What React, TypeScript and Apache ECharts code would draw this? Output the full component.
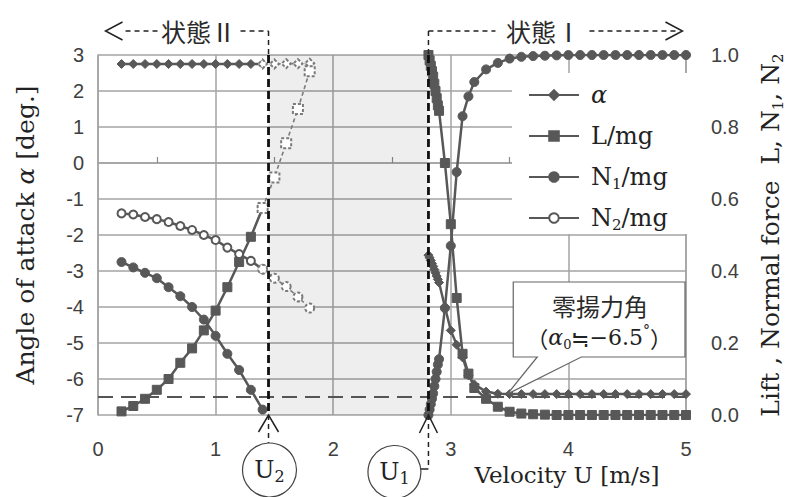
import { useEffect, useRef } from 'react';
import * as echarts from 'echarts';

// ---------------- data ----------------
// State II (stable, plate resting): U = 0.2 … 1.4 m/s
const velocityStateII = [0.2, 0.3, 0.4, 0.5, 0.6, 0.7, 0.8, 0.9, 1.0, 1.1, 1.2, 1.3, 1.4];
const alphaStateII = [2.75, 2.75, 2.75, 2.75, 2.75, 2.75, 2.75, 2.75, 2.75, 2.75, 2.75, 2.75, 2.75];
const liftStateII = [0.01, 0.025, 0.045, 0.07, 0.1, 0.145, 0.185, 0.235, 0.29, 0.355, 0.425, 0.495, 0.575];
const n1StateII = [0.425, 0.41, 0.395, 0.38, 0.355, 0.33, 0.3, 0.265, 0.22, 0.17, 0.125, 0.07, 0.015];
const n2StateII = [0.56, 0.557, 0.55, 0.544, 0.536, 0.525, 0.514, 0.5, 0.486, 0.465, 0.447, 0.428, 0.405];

// Unstable continuation of state II (dashed)
const velocityUnstable = [1.4, 1.5, 1.6, 1.7, 1.8];
const alphaUnstable = [2.75, 2.75, 2.76, 2.76, 2.77];
const liftUnstable = [0.575, 0.66, 0.755, 0.85, 0.955];
const n2Unstable = [0.405, 0.38, 0.357, 0.328, 0.297];

// State I (plate lifted): U = 2.81 … 5.0 m/s
const velocityStateI = [
  2.81, 2.82, 2.83, 2.84, 2.85, 2.86, 2.87, 2.88, 2.89, 2.9,
  2.95, 3.0, 3.05, 3.1, 3.15, 3.2, 3.3, 3.4, 3.5,
  3.6, 3.7, 3.8, 3.9, 4.0, 4.1, 4.2, 4.3, 4.4, 4.5, 4.6, 4.7, 4.8, 4.9, 5.0,
];
const alphaStateI = [
  -2.56, -2.63, -2.71, -2.79, -2.87, -2.96, -3.05, -3.14, -3.23, -3.32,
  -4.0, -4.65, -5.05, -5.4, -5.9, -6.15, -6.35, -6.41, -6.42,
  -6.42, -6.42, -6.42, -6.42, -6.42, -6.42, -6.42, -6.42, -6.42, -6.42, -6.42, -6.42, -6.42, -6.42, -6.42,
];
const liftStateI = [
  1.0, 0.985, 0.97, 0.955, 0.94, 0.92, 0.9, 0.88, 0.86, 0.845,
  0.7, 0.53, 0.325, 0.17, 0.115, 0.075, 0.045, 0.023, 0.009,
  0.004, 0.002, 0.001, 0, 0, 0, 0, 0, 0, 0, 0, 0, 0, 0, 0,
];
const n1StateI = [
  0, 0.015, 0.03, 0.045, 0.06, 0.08, 0.1, 0.12, 0.14, 0.155,
  0.297, 0.47, 0.675, 0.83, 0.885, 0.925, 0.96, 0.978, 0.99,
  0.995, 0.997, 0.998, 0.999, 1, 1, 1, 1, 1, 1, 1, 1, 1, 1, 1,
];

const U2 = 1.45; // lower critical velocity
const U1 = 2.81; // upper critical velocity
const zeroLiftAlpha = -6.5;
const annotationAnchor = [3.48, -6.42];

const velocityRange = [0, 5];
const alphaRange = [-7, 3];
const forceRange = [0, 1];

const legendNames = ['α', 'L/mg', 'N1/mg', 'N2/mg'];
const legendLabels: Record<string, string> = {
  'α': '{i|α}',
  'L/mg': 'L/mg',
  'N1/mg': 'N{s|1}/mg',
  'N2/mg': 'N{s|2}/mg',
};

// ---------------- styling ----------------
const DARK = '#585858';
const DASHED = '#7a7a7a';
const GRID = '#a3a3a3';
const SERIF = 'DejaVu Serif';
const SANS = 'Liberation Sans';
const CJK = 'Noto Sans CJK JP';

const pair = (xs: number[], ys: number[]) => xs.map((x, i) => [x, ys[i]]);

function solidSeries(name: string, yAxisIndex: number, xs: number[], ys: number[], symbol: string, size: number): any {
  const empty = symbol.startsWith('empty');
  return {
    type: 'line',
    name,
    yAxisIndex,
    data: pair(xs, ys),
    symbol,
    symbolSize: size,
    showSymbol: true,
    lineStyle: { color: DARK, width: 2.5 },
    itemStyle: empty
      ? { color: DARK, borderColor: DARK, borderWidth: 2 }
      : { color: DARK, borderColor: DARK, borderWidth: 1 },
    emphasis: { disabled: true },
    z: 3,
  };
}

function dashedSeries(name: string, yAxisIndex: number, xs: number[], ys: number[], symbol: string, size: number): any {
  return {
    type: 'line',
    name,
    yAxisIndex,
    data: pair(xs, ys),
    symbol,
    symbolSize: size,
    showSymbol: true,
    lineStyle: { color: DASHED, width: 1.6, type: [4, 3] },
    itemStyle: { color: DASHED, borderColor: DASHED, borderWidth: 1.6, borderType: [3, 2] },
    emphasis: { disabled: true },
    z: 3,
  };
}

export default function App() {
  const ref = useRef<HTMLDivElement>(null);

  useEffect(() => {
    document.body.style.margin = '0';
    const el = ref.current;
    if (!el) return;
    const chart = echarts.init(el, null, { renderer: 'svg' });

    const alphaII = solidSeries('α', 0, velocityStateII, alphaStateII, 'diamond', 9);
    alphaII.markArea = {
      silent: true,
      itemStyle: { color: 'rgba(0,0,0,0.065)' },
      data: [[{ xAxis: U2 }, { xAxis: U1 }]],
    };
    alphaII.markLine = {
      silent: true,
      symbol: ['none', 'none'],
      label: { show: false },
      lineStyle: { color: '#555', width: 2, type: [15, 8] },
      data: [{ yAxis: zeroLiftAlpha }],
    };

    const option: any = {
      animation: false,
      backgroundColor: '#ffffff',
      textStyle: { fontFamily: SERIF },
      grid: { left: 98, right: 105, top: 55, bottom: 82, containLabel: false },
      xAxis: {
        type: 'value',
        min: velocityRange[0],
        max: velocityRange[1],
        interval: 1,
        name: 'Velocity U [m/s]',
        nameLocation: 'middle',
        nameGap: 46,
        nameTextStyle: {
          fontFamily: SERIF, fontSize: 23, color: '#222', padding: [0, 0, 0, 350],
        },
        axisLine: { show: true, lineStyle: { color: GRID, width: 1.5 } },
        axisTick: { show: false, inside: true },
        minorTick: { show: true, splitNumber: 2, length: 6, lineStyle: { color: '#8a8a8a', width: 1.2 } },
        splitLine: { show: true, lineStyle: { color: GRID, width: 1.5 } },
        axisLabel: { fontFamily: SANS, fontSize: 20, color: '#404040', margin: 24 },
      },
      yAxis: [
        {
          type: 'value',
          position: 'left',
          min: alphaRange[0],
          max: alphaRange[1],
          interval: 1,
          name: 'Angle of attack {i|α} [deg.]',
          nameLocation: 'middle',
          nameRotate: 90,
          nameGap: 58,
          nameTextStyle: {
            fontFamily: SERIF, fontSize: 25, color: '#222', lineHeight: 30,
            rich: { i: { fontFamily: SERIF, fontSize: 25, fontStyle: 'italic', color: '#222', lineHeight: 30 } },
          },
          axisLine: { show: true, lineStyle: { color: GRID, width: 1.5 } },
          axisTick: { show: false },
          splitLine: { show: true, lineStyle: { color: GRID, width: 1.5 } },
          axisLabel: { fontFamily: SANS, fontSize: 20, color: '#404040', margin: 14 },
        },
        {
          type: 'value',
          position: 'right',
          min: forceRange[0],
          max: forceRange[1],
          interval: 0.1,
          name: 'Lift , Normal force  L, N{s|1}, N{s|2}',
          nameLocation: 'middle',
          nameRotate: 90,
          nameGap: 69,
          nameTextStyle: {
            fontFamily: SERIF, fontSize: 25, color: '#222', lineHeight: 30,
            rich: { s: { fontFamily: SERIF, fontSize: 15, color: '#222', lineHeight: 14, verticalAlign: 'bottom' } },
          },
          axisLine: { show: true, lineStyle: { color: GRID, width: 1.5 } },
          axisTick: { show: false },
          splitLine: { show: false },
          axisLabel: {
            fontFamily: SANS, fontSize: 20, color: '#404040', margin: 25,
            formatter: (v: number) => (Math.round(v * 10) % 2 === 0 ? v.toFixed(1) : ''),
          },
        },
      ],
      legend: {
        data: legendNames,
        orient: 'vertical',
        left: 512,
        top: 73,
        itemWidth: 50,
        itemHeight: 12,
        itemGap: 13,
        padding: [8, 21, 2, 16],
        backgroundColor: '#ffffff',
        selectedMode: false,
        formatter: (n: string) => legendLabels[n] ?? n,
        textStyle: {
          fontFamily: SERIF, fontSize: 24, color: '#222', lineHeight: 28, padding: [0, 0, 0, 7],
          rich: {
            i: { fontFamily: SERIF, fontSize: 24, fontStyle: 'italic', color: '#222', lineHeight: 28 },
            s: { fontFamily: SERIF, fontSize: 15, color: '#222', lineHeight: 18, verticalAlign: 'bottom' },
          },
        },
      },
      series: [
        alphaII,
        solidSeries('L/mg', 1, velocityStateII, liftStateII, 'rect', 9),
        solidSeries('N1/mg', 1, velocityStateII, n1StateII, 'circle', 9),
        solidSeries('N2/mg', 1, velocityStateII, n2StateII, 'emptyCircle', 8),
        dashedSeries('α', 0, velocityUnstable, alphaUnstable, 'emptyDiamond', 9),
        dashedSeries('L/mg', 1, velocityUnstable, liftUnstable, 'emptyRect', 10),
        dashedSeries('N2/mg', 1, velocityUnstable, n2Unstable, 'emptyCircle', 9),
        solidSeries('α', 0, velocityStateI, alphaStateI, 'diamond', 9),
        solidSeries('L/mg', 1, velocityStateI, liftStateI, 'rect', 9),
        solidSeries('N1/mg', 1, velocityStateI, n1StateI, 'circle', 9),
      ],
    };

    chart.setOption(option);

    // ---- annotations positioned through the axes' own scales ----
    const toX = (v: number) => chart.convertToPixel({ xAxisIndex: 0 }, v) as number;
    const toY = (v: number) => chart.convertToPixel({ yAxisIndex: 0 }, v) as number;
    const xU2 = toX(U2);
    const xU1 = toX(U1);
    const yTop = toY(alphaRange[1]);
    const yBot = toY(alphaRange[0]);
    const xRight = toX(velocityRange[1]);
    const bracketY = yTop - 24;

    const thin = { stroke: '#222', lineWidth: 1.5, lineDash: [5, 4], fill: null };
    const thick = { stroke: '#111', lineWidth: 2.8, lineDash: [8, 4], fill: null };
    const solidThin = { stroke: '#222', lineWidth: 1.5, fill: null };
    const line = (x1: number, y1: number, x2: number, y2: number, style: any) => ({
      type: 'line', z: 100, silent: true, shape: { x1, y1, x2, y2 }, style,
    });
    const poly = (pts: number[][], style: any) => ({
      type: 'polyline', z: 100, silent: true, shape: { points: pts }, style,
    });
    const cjkText = (text: string, x: number, y: number, size: number) => ({
      type: 'text', z: 101, silent: true,
      style: { text, x, y, align: 'center', verticalAlign: 'middle', fontFamily: CJK, fontSize: size, fill: '#2a2a2a' },
    });
    const uLabel = (sub: string, x: number, y: number) => ({
      type: 'text', z: 102, silent: true,
      style: {
        text: `{u|U}{s|${sub}}`, x, y, align: 'center', verticalAlign: 'middle',
        rich: {
          u: { fontFamily: SERIF, fontSize: 24, lineHeight: 28, fill: '#222' },
          s: { fontFamily: SERIF, fontSize: 16, lineHeight: 22, verticalAlign: 'bottom', fill: '#222' },
        },
      },
    });

    const circleU2 = { cx: xU2 + 1, cy: yBot + 55, r: 27 };
    const circleU1 = { cx: xU1 - 34, cy: yBot + 57, r: 26.5 };

    const [tipX, tipY] = chart.convertToPixel({ xAxisIndex: 0, yAxisIndex: 0 }, annotationAnchor) as number[];
    const boxL = tipX + 6;
    const boxR = xRight - 1;
    const boxT = yTop + 227;
    const boxB = yTop + 302;

    const graphic: any[] = [
      // U2 marker line and "state II" bracket
      line(xU2, yTop, xU2, yBot, thick),
      line(xU2, bracketY, xU2, yTop, thin),
      line(xU2 - 28, bracketY, xU2, bracketY, thin),
      line(xU2 - 143, bracketY, xU2 - 110, bracketY, thin),
      poly([[xU2 - 146, bracketY - 9], [xU2 - 163, bracketY], [xU2 - 146, bracketY + 9]], solidThin),
      cjkText('状態Ⅱ', xU2 - 70, bracketY, 25),
      line(xU2, yBot, xU2, circleU2.cy - circleU2.r, thin),
      poly([[xU2 - 10, yBot + 17], [xU2, yBot], [xU2 + 10, yBot + 17]], solidThin),
      { type: 'circle', z: 101, silent: true, shape: circleU2, style: { fill: '#fff', stroke: '#444', lineWidth: 1.2 } },
      uLabel('2', circleU2.cx, circleU2.cy),

      // U1 marker line and "state I" bracket
      line(xU1, yTop, xU1, yBot, thick),
      line(xU1, bracketY, xU1, yTop, thin),
      line(xU1, bracketY, xU1 + 67, bracketY, thin),
      line(xU1 + 161, bracketY, xU1 + 250, bracketY, thin),
      poly([[xU1 + 237, bracketY - 9], [xU1 + 254, bracketY], [xU1 + 237, bracketY + 9]], solidThin),
      cjkText('状態Ⅰ', xU1 + 115, bracketY, 25),
      line(xU1, yBot, xU1, circleU1.cy - 3, thin),
      line(xU1, circleU1.cy - 3, circleU1.cx + circleU1.r, circleU1.cy - 3, solidThin),
      poly([[xU1 - 9, yBot + 18], [xU1, yBot], [xU1 + 9, yBot + 18]], solidThin),
      { type: 'circle', z: 101, silent: true, shape: circleU1, style: { fill: '#fff', stroke: '#444', lineWidth: 1.2 } },
      uLabel('1', circleU1.cx, circleU1.cy),

      // zero-lift angle callout
      {
        type: 'polygon', z: 100, silent: true,
        shape: {
          points: [
            [boxL, boxT], [boxR, boxT], [boxR, boxB], [boxL + 68, boxB],
            [tipX, tipY], [boxL + 24, boxB], [boxL, boxB],
          ],
        },
        style: { fill: '#fff', stroke: '#666', lineWidth: 1.2 },
      },
      cjkText('零揚力角', (boxL + boxR) / 2 + 1, boxT + 23, 24),
      {
        type: 'text', z: 101, silent: true,
        style: {
          text: '{p|（}{a|α}{s|0}{c|≒}{b|−6.5}{d|°}{p|）}',
          x: (boxL + boxR) / 2, y: boxT + 55, align: 'center', verticalAlign: 'middle',
          rich: {
            p: { fontFamily: CJK, fontSize: 22, lineHeight: 28, fill: '#222' },
            a: { fontFamily: SERIF, fontSize: 22, lineHeight: 28, fontStyle: 'italic', fill: '#222' },
            s: { fontFamily: SERIF, fontSize: 13, lineHeight: 16, verticalAlign: 'bottom', fill: '#222' },
            c: { fontFamily: CJK, fontSize: 22, lineHeight: 28, fill: '#222' },
            b: { fontFamily: SERIF, fontSize: 22, lineHeight: 28, fill: '#222' },
            d: { fontFamily: SERIF, fontSize: 14, lineHeight: 28, verticalAlign: 'top', fill: '#222' },
          },
        },
      },
    ];

    chart.setOption({ graphic });

    return () => chart.dispose();
  }, []);

  return (
    <div
      ref={ref}
      style={{ position: 'fixed', left: 0, top: 0, width: 793, height: 497, background: '#fff' }}
    />
  );
}
